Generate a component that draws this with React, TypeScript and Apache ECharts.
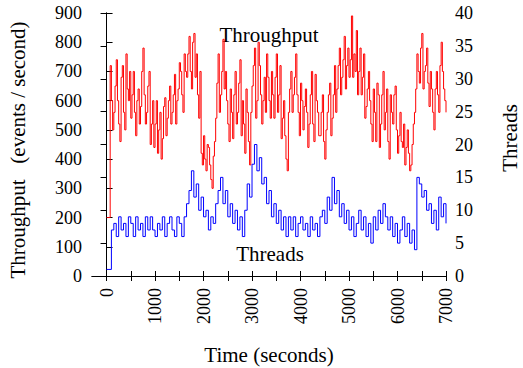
import React, { useEffect, useRef } from "react";
import * as echarts from "echarts";

const times = [
  0, 50, 100, 150, 200, 250, 300, 350, 400, 450, 500, 550, 600, 650, 700, 750, 800, 850, 900, 950,
  1000, 1050, 1100, 1150, 1200, 1250, 1300, 1350, 1400, 1450, 1500, 1550, 1600, 1650, 1700, 1750, 1800, 1850, 1900, 1950,
  2000, 2050, 2100, 2150, 2200, 2250, 2300, 2350, 2400, 2450, 2500, 2550, 2600, 2650, 2700, 2750, 2800, 2850, 2900, 2950,
  3000, 3050, 3100, 3150, 3200, 3250, 3300, 3350, 3400, 3450, 3500, 3550, 3600, 3650, 3700, 3750, 3800, 3850, 3900, 3950,
  4000, 4050, 4100, 4150, 4200, 4250, 4300, 4350, 4400, 4450, 4500, 4550, 4600, 4650, 4700, 4750, 4800, 4850, 4900, 4950,
  5000, 5050, 5100, 5150, 5200, 5250, 5300, 5350, 5400, 5450, 5500, 5550, 5600, 5650, 5700, 5750, 5800, 5850, 5900, 5950,
  6000, 6050, 6100, 6150, 6200, 6250, 6300, 6350, 6400, 6450, 6500, 6550, 6600, 6650, 6700, 6750, 6800, 6850, 6900, 6950,
  7000,
];

const throughputGrid = [
  200, 200, 600, 560, 740, 520, 680, 560, 760, 600, 540, 700, 480, 640, 580, 780, 520, 650, 450, 600,
  520, 420, 560, 470, 610, 540, 650, 560, 690, 600, 730, 620, 760, 680, 820, 640, 830, 760, 540, 420,
  480, 360, 440, 330, 410, 540, 760, 620, 810, 700, 520, 640, 470, 700, 560, 740, 600, 420, 560, 380,
  650, 780, 600, 720, 520, 680, 760, 600, 700, 540, 760, 620, 470, 600, 400, 560, 700, 620, 760, 560,
  660, 500, 640, 440, 620, 520, 690, 560, 480, 620, 400, 560, 660, 540, 720, 640, 780, 680, 820, 720,
  680, 890, 760, 840, 700, 620, 760, 580, 700, 520, 640, 460, 620, 520, 700, 560, 460, 620, 520, 650,
  420, 560, 440, 380, 500, 360, 450, 560, 760, 660, 830, 700, 780, 580, 640, 500, 700, 560, 800, 640,
  560,
];

const timesHalf = [
  25, 75, 125, 175, 225, 275, 325, 375, 425, 475, 525, 575, 625, 675, 725, 775, 825, 875, 925, 975,
  1025, 1075, 1125, 1175, 1225, 1275, 1325, 1375, 1425, 1475, 1525, 1575, 1625, 1675, 1725, 1775, 1825, 1875, 1925, 1975,
  2025, 2075, 2125, 2175, 2225, 2275, 2325, 2375, 2425, 2475, 2525, 2575, 2625, 2675, 2725, 2775, 2825, 2875, 2925, 2975,
  3025, 3075, 3125, 3175, 3225, 3275, 3325, 3375, 3425, 3475, 3525, 3575, 3625, 3675, 3725, 3775, 3825, 3875, 3925, 3975,
  4025, 4075, 4125, 4175, 4225, 4275, 4325, 4375, 4425, 4475, 4525, 4575, 4625, 4675, 4725, 4775, 4825, 4875, 4925, 4975,
  5025, 5075, 5125, 5175, 5225, 5275, 5325, 5375, 5425, 5475, 5525, 5575, 5625, 5675, 5725, 5775, 5825, 5875, 5925, 5975,
  6025, 6075, 6125, 6175, 6225, 6275, 6325, 6375, 6425, 6475, 6525, 6575, 6625, 6675, 6725, 6775, 6825, 6875, 6925, 6975,
];

const throughputHalf = [
  200, 720, 500, 650, 600, 460, 720, 500, 640, 700, 620, 560, 600, 520, 700, 620, 560, 700, 520, 440,
  600, 500, 400, 580, 480, 600, 520, 620, 520, 640, 700, 560, 700, 760, 700, 800, 680, 620, 700, 380,
  400, 450, 380, 300, 460, 660, 560, 700, 640, 600, 460, 560, 620, 520, 660, 480, 520, 640, 460, 560,
  720, 540, 800, 620, 600, 560, 680, 540, 620, 680, 560, 720, 540, 480, 360, 640, 560, 680, 620, 480,
  600, 580, 560, 520, 700, 460, 600, 480, 560, 460, 500, 620, 480, 620, 560, 720, 620, 740, 640, 780,
  740, 680, 700, 620, 780, 680, 540, 640, 600, 460, 560, 660, 440, 620, 500, 640, 400, 560, 620, 500,
  480, 460, 520, 440, 420, 380, 520, 640, 700, 780, 640, 720, 660, 700, 560, 640, 620, 720, 700, 600,
];

const threads = [
  1, 1, 7, 8, 6, 9, 7, 8, 6, 9, 8, 6, 9, 7, 8, 6, 9, 7, 9, 7,
  6, 8, 7, 9, 6, 8, 9, 7, 6, 9, 8, 6, 9, 11, 13, 16, 12, 14, 10, 12,
  9, 10, 7, 9, 8, 11, 13, 15, 11, 13, 9, 11, 8, 10, 7, 9, 6, 10, 14, 12,
  17, 20, 16, 18, 14, 15, 11, 13, 9, 11, 8, 10, 7, 9, 6, 9, 7, 9, 6, 8,
  9, 7, 8, 6, 9, 7, 8, 6, 9, 10, 8, 12, 10, 15, 11, 13, 9, 11, 8, 10,
  7, 9, 6, 8, 10, 7, 9, 6, 8, 5, 9, 7, 10, 8, 11, 9, 7, 9, 6, 8,
  5, 7, 9, 6, 8, 5, 7, 4, 15, 14, 12, 13, 10, 11, 8, 10, 7, 12, 9, 11,
  8,
];

const xLabelValues = [0, 1000, 2000, 3000, 4000, 5000, 6000, 7000];
const xTickValues = [0, 500, 1000, 1500, 2000, 2500, 3000, 3500, 4000, 4500, 5000, 5500, 6000, 6500, 7000];

const FONT = "Liberation Serif";

export default function App() {
  const ref = useRef<HTMLDivElement>(null);
  useEffect(() => {
    if (!ref.current) return;
    const chart = echarts.init(ref.current, null, { renderer: "svg" });
    const tpData = times
      .map((t, i) => [t, throughputGrid[i]])
      .concat(timesHalf.map((t, i) => [t, throughputHalf[i]]))
      .sort((a, b) => a[0] - b[0]);
    const thData = times.map((t, i) => [t, threads[i]]);
    const axisLine = { show: true, lineStyle: { color: "#000", width: 1 } };
    const labelStyle = { color: "#000", fontFamily: FONT, fontSize: 18 };
    const textStyle = (text: string) => ({
      text,
      fontFamily: FONT,
      fontSize: 21,
      fill: "#000",
      align: "center",
      verticalAlign: "middle",
    });
    chart.setOption({
      animation: false,
      backgroundColor: "#fff",
      textStyle: { fontFamily: FONT },
      grid: { left: 92, right: 77, top: 13, bottom: 92, containLabel: false },
      xAxis: [
        {
          type: "value",
          position: "bottom",
          min: -300,
          max: 7000,
          axisLine,
          splitLine: { show: false },
          axisTick: { show: true, inside: true, length: 5, customValues: xTickValues, lineStyle: { color: "#000" } },
          axisLabel: {
            customValues: xLabelValues,
            rotate: 90,
            margin: 12,
            formatter: (v: number) => String(v),
            ...labelStyle,
          },
        },
        {
          type: "value",
          position: "top",
          min: -300,
          max: 7000,
          axisLine,
          splitLine: { show: false },
          axisTick: { show: true, inside: true, length: 5, customValues: xTickValues, lineStyle: { color: "#000" } },
          axisLabel: { show: false },
        },
      ],
      yAxis: [
        {
          type: "value",
          min: 0,
          max: 900,
          interval: 100,
          position: "left",
          axisLine,
          splitLine: { show: false },
          axisTick: { show: true, inside: true, length: 6, lineStyle: { color: "#000" } },
          axisLabel: { margin: 10, formatter: (v: number) => String(v), ...labelStyle },
        },
        {
          type: "value",
          min: 0,
          max: 40,
          interval: 5,
          position: "right",
          axisLine,
          splitLine: { show: false },
          axisTick: { show: true, inside: true, length: 6, lineStyle: { color: "#000" } },
          axisLabel: { margin: 9, formatter: (v: number) => String(v), ...labelStyle },
        },
      ],
      series: [
        {
          type: "line",
          name: "Throughput",
          data: tpData,
          xAxisIndex: 0,
          yAxisIndex: 0,
          step: "end",
          showSymbol: false,
          lineStyle: { color: "#ff0000", width: 1 },
          itemStyle: { color: "#ff0000" },
        },
        {
          type: "line",
          name: "Threads",
          data: thData,
          xAxisIndex: 0,
          yAxisIndex: 1,
          step: "end",
          showSymbol: false,
          lineStyle: { color: "#0000ff", width: 1 },
          itemStyle: { color: "#0000ff" },
        },
      ],
      graphic: [
        { type: "text", x: 269, y: 35, style: textStyle("Throughput") },
        { type: "text", x: 270, y: 254, style: textStyle("Threads") },
        {
          type: "text",
          x: 18,
          y: 150,
          rotation: Math.PI / 2,
          style: textStyle("Throughput   (events / second)"),
        },
        { type: "text", x: 510, y: 138, rotation: Math.PI / 2, style: textStyle("Threads") },
        { type: "text", x: 269, y: 355, style: textStyle("Time (seconds)") },
      ],
    });
    return () => chart.dispose();
  }, []);
  return <div ref={ref} style={{ width: 523, height: 368, position: "absolute", left: 0, top: 0 }} />;
}
